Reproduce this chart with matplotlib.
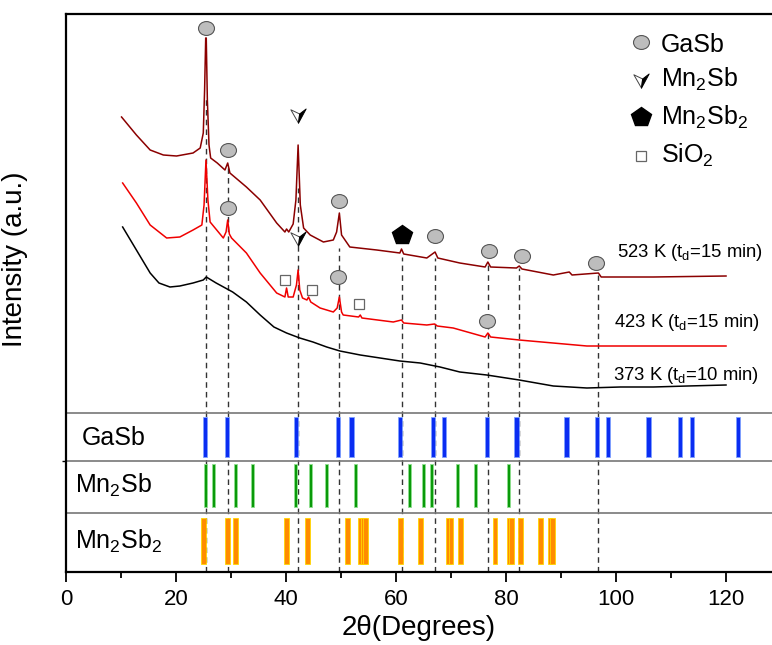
"""XRD patterns of GaSb films annealed at different temperatures"""

import matplotlib.pyplot as plt
from matplotlib.path import Path

plt.rcParams['font.family'] = ['Liberation Sans', 'DejaVu Sans']
plt.rcParams['mathtext.default'] = 'regular'

# measured patterns (intensity in a.u., curves already stacked)
theta_523 = [10.1, 12.8, 15.3, 17.7, 20.1, 23.1, 24.4, 24.96, 25.2, 25.4, 25.5, 25.7, 26.0, 26.3,
             27.5, 28.9, 29.4, 29.8, 32.8, 35.3, 38.3, 39.8, 40.1, 40.5, 41.3, 41.8, 42.2, 42.6,
             43.2, 44.4, 46.8, 48.6, 49.2, 49.7, 50.1, 51.6, 56.5, 60.7, 61.0, 61.4, 65.6, 67.1,
             67.6, 71.6, 76.2, 76.7, 77.2, 81.9, 82.4, 82.9, 88.6, 91.5, 92.0, 96.8, 97.3,
             106.8, 120.0]
int_523 = [455, 437, 422, 417, 416, 419, 424, 439, 482, 534, 534, 472, 427, 414,
           409, 402, 409, 399, 385, 372, 349, 340, 343, 340, 348, 372, 427, 367,
           344, 337, 330, 332, 340, 359, 337, 325, 322, 319, 323, 318, 314, 320,
           314, 309, 305, 310, 305, 304, 306, 303, 297, 300, 297, 299, 295,
           295, 296]

theta_423 = [10.3, 12.8, 15.3, 18.3, 20.7, 23.1, 24.7, 25.1, 25.45, 25.8, 26.2, 28.6, 29.1,
             29.4, 29.7, 30.1, 32.8, 35.3, 38.3, 39.8, 40.1, 40.4, 41.3, 41.9, 42.2, 42.5,
             43.0, 43.8, 44.1, 44.5, 46.2, 48.6, 49.3, 49.7, 50.1, 50.4, 53.2, 53.5, 53.8,
             59.5, 61.0, 61.4, 65.6, 67.0, 67.5, 70.4, 76.2, 76.7, 77.2, 82.4, 94.7, 120.0]
int_423 = [389, 369, 347, 334, 335, 342, 347, 367, 412, 372, 350, 334, 340,
           352, 338, 334, 319, 299, 279, 275, 284, 275, 275, 287, 302, 282,
           274, 272, 275, 270, 264, 260, 264, 275, 260, 257, 255, 257, 254,
           250, 252, 249, 247, 248, 246, 244, 235, 239, 235, 232, 226, 226]

theta_373 = [10.3, 12.8, 15.3, 16.9, 18.9, 20.7, 23.1, 24.96, 25.5, 27.3, 30.3, 32.8, 35.3,
             37.8, 40.1, 42.5, 44.9, 47.4, 49.8, 53.5, 57.1, 60.7, 64.4, 68.0, 71.6, 76.5,
             82.4, 88.6, 94.7, 100.8, 106.8, 113.0, 120.0]
int_373 = [345, 322, 299, 289, 285, 286, 289, 292, 295, 289, 280, 270, 257,
           245, 239, 234, 230, 225, 221, 217, 214, 211, 209, 205, 200, 197,
           192, 186, 184, 185, 185, 186, 187]

# reference patterns (peak positions, 2theta)
gasb_ref = [25.3, 29.2, 41.8, 49.5, 51.9, 60.7, 66.8, 68.7, 76.5, 81.9, 91.0, 96.6,
            98.5, 105.9, 111.7, 113.8, 122.1]
mn2sb_ref = [25.3, 26.9, 30.9, 33.9, 41.8, 44.5, 47.4, 52.7, 62.5, 65.0, 66.5, 71.2,
             74.5, 80.5]
mn2sb2_ref = [25.0, 29.3, 30.9, 40.1, 43.9, 51.1, 53.6, 54.1, 54.5, 60.8, 64.4, 69.5,
              70.0, 71.8, 78.0, 80.6, 81.0, 82.7, 86.3, 88.0, 88.5]

# guide lines: position and top end
guide_pos = [25.4, 29.4, 42.2, 49.6, 61.0, 67.1, 76.7, 82.4, 96.8]
guide_top = [474, 405, 384, 324, 315, 314, 309, 304, 297]

# phase markers
gasb_x = [25.45, 29.4, 29.4, 49.6, 49.5, 67.1, 76.9, 82.9, 96.3, 76.6]
gasb_y = [544, 422, 364, 371, 295, 336, 321, 316, 309, 251]
mn2sb_x = [42.2, 42.2]
mn2sb_y = [457, 334]
mn2sb2_x = [61.0]
mn2sb2_y = [337]
sio2_x = [39.9, 44.7, 53.3]
sio2_y = [292, 282, 268]

curve_labels = ["523 K (t$_d$=15 min)", "423 K (t$_d$=15 min)", "373 K (t$_d$=10 min)"]
curve_label_x = [100.2, 99.6, 99.45]
curve_label_y = [315, 245, 192]

# marker shapes
circ = Path.unit_circle()
ellipse = Path(circ.vertices * [1, 0.87], circ.codes)
codes = [Path.MOVETO, Path.LINETO, Path.LINETO, Path.CLOSEPOLY]
wing_left = Path([(-1, 0.75), (0.15, 0.2), (0, -1), (-1, 0.75)], codes)
wing_right = Path([(0.15, 0.2), (1, 0.85), (0, -1), (0.15, 0.2)], codes)


def draw_gasb(ax, x, y, size=11.5):
    ax.plot(x, y, ls="none", marker=ellipse, ms=size, mfc="#bdbdbd", mec="#555555", mew=0.8, zorder=5)


def draw_mn2sb(ax, x, y, size=11):
    ax.plot(x, y, ls="none", marker=wing_left, ms=size, mfc="white", mec="#444444", mew=0.7, zorder=5)
    ax.plot(x, y, ls="none", marker=wing_right, ms=size, mfc="black", mec="black", mew=0.7, zorder=5)


def draw_mn2sb2(ax, x, y, size=15):
    ax.plot(x, y, ls="none", marker="p", ms=size, mfc="black", mec="black", zorder=5)


def draw_sio2(ax, x, y, size=7.5):
    ax.plot(x, y, ls="none", marker="s", ms=size, mfc="white", mec="#666666", mew=0.9, zorder=5)


fig = plt.figure(figsize=(7.72, 6.45), dpi=100)
ax = fig.add_axes([66 / 772, 73 / 645, 706 / 772, 558 / 645])
ax.set_xlim(0, 128.36)
ax.set_ylim(0, 558)

# dashed guides
ax.vlines(guide_pos, 0, guide_top, colors="#333333", linestyles=(0, (4, 3)), lw=1, zorder=1)

# patterns
ax.plot(theta_523, int_523, color="#8b0000", lw=1.1, zorder=3)
ax.plot(theta_423, int_423, color="#f00000", lw=1.1, zorder=3)
ax.plot(theta_373, int_373, color="black", lw=1.1, zorder=3)

draw_gasb(ax, gasb_x, gasb_y)
draw_mn2sb(ax, mn2sb_x, mn2sb_y)
draw_mn2sb2(ax, mn2sb2_x, mn2sb2_y)
draw_sio2(ax, sio2_x, sio2_y)

for lab, x, y in zip(curve_labels, curve_label_x, curve_label_y):
    ax.text(x, y, lab, fontsize=13.3, va="baseline", ha="left")

# legend (drawn by hand)
draw_gasb(ax, [104.5], [530])
draw_mn2sb(ax, [104.5], [492])
draw_mn2sb2(ax, [104.5], [455])
draw_sio2(ax, [104.5], [416])
ax.text(108.1, 520, "GaSb", fontsize=18, va="baseline")
ax.text(108.1, 485, "Mn$_2$Sb", fontsize=18, va="baseline")
ax.text(108.1, 447, "Mn$_2$Sb$_2$", fontsize=18, va="baseline")
ax.text(108.1, 409, "SiO$_2$", fontsize=18, va="baseline")

# reference panels
for yb in [159, 111, 59]:
    ax.axhline(yb, color="#777777", lw=1.2, zorder=2)
ax.bar(gasb_ref, 40, width=0.75, bottom=115.3, color="#0a2df2", edgecolor="#7fa0ff", lw=0.6, zorder=2)
ax.bar(mn2sb_ref, 42.4, width=0.55, bottom=65.3, color="#0a9a0a", edgecolor="#8fe08f", lw=0.6, zorder=2)
ax.bar(mn2sb2_ref, 46.6, width=0.9, bottom=7.7, color="#ff8c00", edgecolor="#ffd700", lw=0.6, zorder=2)
ax.text(2.9, 127, "GaSb", fontsize=18, va="baseline")
ax.text(1.6, 79, "Mn$_2$Sb", fontsize=18, va="baseline")
ax.text(1.6, 23, "Mn$_2$Sb$_2$", fontsize=18, va="baseline")

# axes styling
ax.spines["right"].set_visible(False)
for side in ["left", "bottom", "top"]:
    ax.spines[side].set_linewidth(1.6)
ax.set_xticks(range(0, 121, 20))
ax.set_xticks(range(10, 121, 20), minor=True)
ax.tick_params(axis="x", which="major", direction="out", length=7, width=1.3, labelsize=16, pad=5)
ax.tick_params(axis="x", which="minor", direction="out", length=4, width=1.3)
ax.set_yticks([111])
ax.set_yticklabels([""])
ax.tick_params(axis="y", direction="out", length=3, width=1)

ax.set_xlabel("2θ(Degrees)", fontsize=20, labelpad=4)
ax.set_ylabel("Intensity (a.u.)", fontsize=20)
ax.yaxis.set_label_coords(-0.054, 0.56)

fig.savefig("out.png", dpi=100)
plt.close()
